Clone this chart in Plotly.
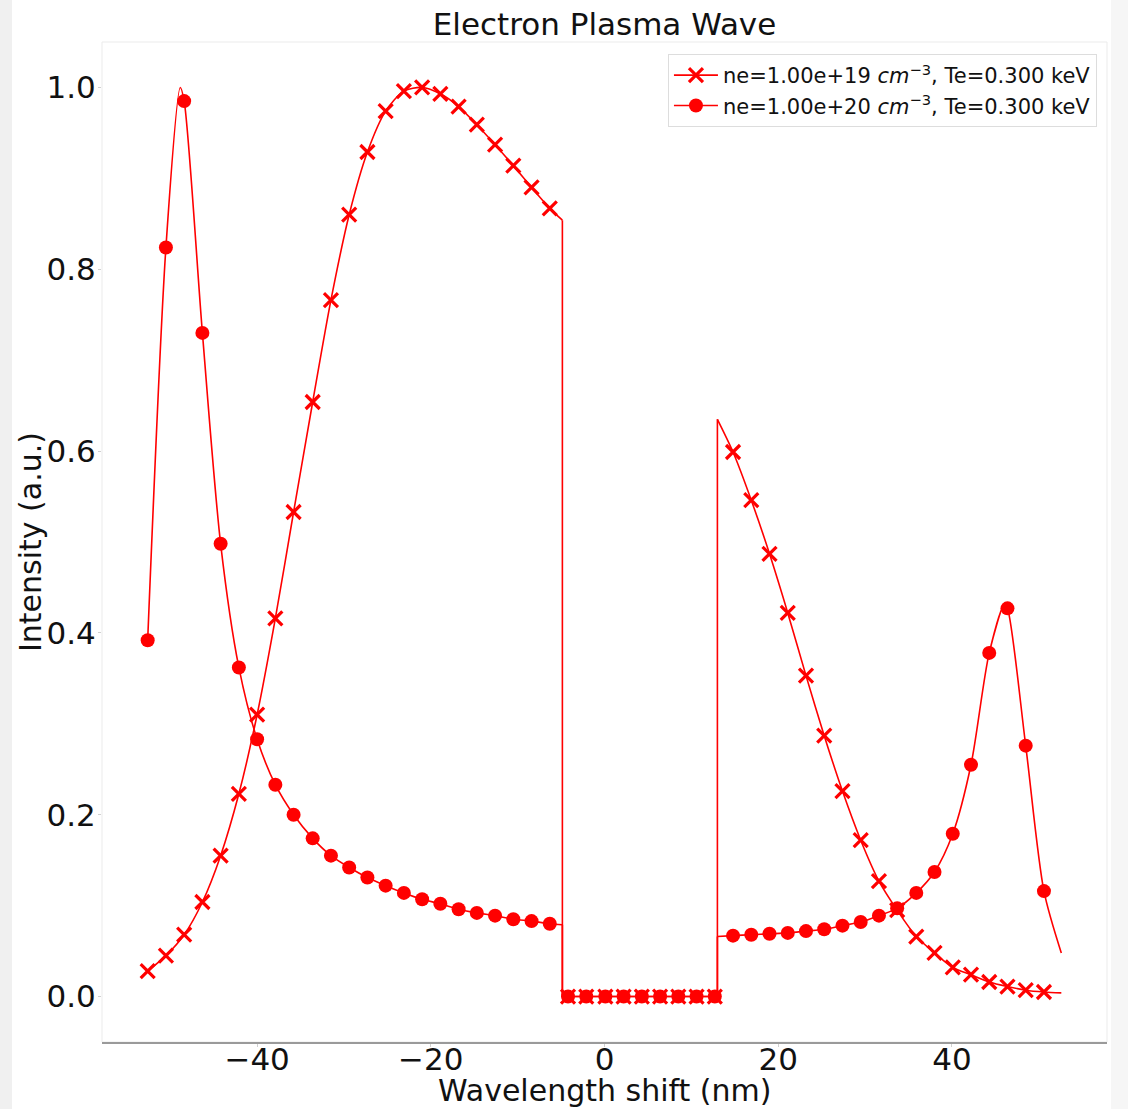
import plotly.graph_objects as go

# ---- data ----
# marker positions (nm)
X_MARK = [-52.6, -50.5, -48.4, -46.3, -44.2, -42.1, -40.0, -37.9, -35.8, -33.6,
          -31.5, -29.4, -27.3, -25.2, -23.1, -21.0, -18.9, -16.8, -14.7, -12.6,
          -10.5, -8.4, -6.3, -4.2, -2.1, 0.1, 2.2, 4.3, 6.4, 8.5,
          10.6, 12.7, 14.8, 16.9, 19.0, 21.1, 23.2, 25.3, 27.4, 29.5,
          31.6, 33.7, 35.9, 38.0, 40.1, 42.2, 44.3, 46.4, 48.5, 50.6]

NE19_MARK = [0.028, 0.045, 0.068, 0.104, 0.155, 0.223, 0.310, 0.416, 0.533, 0.654,
             0.766, 0.860, 0.929, 0.974, 0.996, 1.000, 0.993, 0.979, 0.959, 0.937,
             0.914, 0.890, 0.867, 0.0, 0.0, 0.0, 0.0, 0.0, 0.0, 0.0,
             0.0, 0.0, 0.599, 0.546, 0.487, 0.422, 0.353, 0.287, 0.226, 0.172,
             0.127, 0.095, 0.066, 0.048, 0.032, 0.024, 0.016, 0.011, 0.007, 0.005]

NE20_MARK = [0.392, 0.824, 0.985, 0.730, 0.498, 0.362, 0.283, 0.233, 0.200, 0.174,
             0.155, 0.142, 0.131, 0.122, 0.114, 0.107, 0.102, 0.096, 0.092, 0.089,
             0.085, 0.083, 0.080, 0.0, 0.0, 0.0, 0.0, 0.0, 0.0, 0.0,
             0.0, 0.0, 0.067, 0.068, 0.069, 0.070, 0.072, 0.074, 0.078, 0.082,
             0.089, 0.097, 0.114, 0.137, 0.179, 0.255, 0.378, 0.427, 0.276, 0.116]

# extra curve points read between markers (segment ends and peaks)
GAP_LO = -4.85
GAP_HI = 13.0
X_END = 52.6
NE19_LEFT_END, NE19_RIGHT_START, NE19_END = 0.854, 0.635, 0.004
NE20_LEFT_END, NE20_RIGHT_START, NE20_END = 0.079, 0.066, 0.048
NE20_PEAK_L = (-48.85, 1.0)
NE20_PEAK_R = (46.05, 0.431)

LABEL19 = "ne=1.00e+19 <i>cm</i><sup>−3</sup>, Te=0.300 keV"
LABEL20 = "ne=1.00e+20 <i>cm</i><sup>−3</sup>, Te=0.300 keV"

TITLE = "Electron Plasma Wave"
XTITLE = "Wavelength shift (nm)"
YTITLE = "Intensity (a.u.)"

RED = "#ff0000"
FONT = "DejaVu Sans"
TXT = "#111111"

n_left = sum(1 for x in X_MARK if x < GAP_LO)
i_right = next(i for i, x in enumerate(X_MARK) if x > GAP_HI)


def insert_point(xs, ys, px, py):
    pairs = sorted(list(zip(xs, ys)) + [(px, py)])
    return [p[0] for p in pairs], [p[1] for p in pairs]


fig = go.Figure()


def add_series(ymark, left_end, right_start, y_end, peaks):
    lx = X_MARK[:n_left] + [GAP_LO]
    ly = ymark[:n_left] + [left_end]
    rx = [GAP_HI] + X_MARK[i_right:] + [X_END]
    ry = [right_start] + ymark[i_right:] + [y_end]
    for (px, py) in peaks:
        if px < GAP_LO:
            lx, ly = insert_point(lx, ly, px, py)
        else:
            rx, ry = insert_point(rx, ry, px, py)
    line = dict(color=RED, width=1.6)
    fig.add_trace(go.Scatter(x=lx, y=ly, mode="lines", line=dict(**line, shape="spline", smoothing=0.8),
                             showlegend=False, hoverinfo="skip"))
    fig.add_trace(go.Scatter(x=[GAP_LO, GAP_LO, GAP_HI, GAP_HI],
                             y=[left_end, 0.0, 0.0, right_start],
                             mode="lines", line=line, showlegend=False, hoverinfo="skip"))
    fig.add_trace(go.Scatter(x=rx, y=ry, mode="lines", line=dict(**line, shape="spline", smoothing=0.8),
                             showlegend=False, hoverinfo="skip"))


add_series(NE19_MARK, NE19_LEFT_END, NE19_RIGHT_START, NE19_END, [])
X_MARKER = dict(symbol="x-thin", size=14, color=RED, line=dict(color=RED, width=3.2))
fig.add_trace(go.Scatter(x=X_MARK, y=NE19_MARK, mode="markers", marker=X_MARKER,
                         showlegend=False))

add_series(NE20_MARK, NE20_LEFT_END, NE20_RIGHT_START, NE20_END, [NE20_PEAK_L, NE20_PEAK_R])
DOT_MARKER = dict(symbol="circle", size=14, color=RED, line=dict(width=0))
fig.add_trace(go.Scatter(x=X_MARK, y=NE20_MARK, mode="markers", marker=DOT_MARKER,
                         showlegend=False))

# legend entries
fig.add_trace(go.Scatter(x=[None], y=[None], mode="lines+markers", name=LABEL19,
                         line=dict(color=RED, width=1.6), marker=X_MARKER))
fig.add_trace(go.Scatter(x=[None], y=[None], mode="lines+markers", name=LABEL20,
                         line=dict(color=RED, width=1.6), marker=DOT_MARKER))

W, H = 1128, 1109
ML, MR, MT, MB = 102, 21, 42, 67
pw = W - ML - MR
ph = H - MT - MB

shapes = [
    # light grey strips at the page edges
    dict(type="rect", xref="paper", yref="paper",
         x0=-ML / pw, x1=(12 - ML) / pw, y0=-MB / ph, y1=1 + MT / ph,
         fillcolor="#f0f0f0", line=dict(width=0), layer="below"),
    dict(type="rect", xref="paper", yref="paper",
         x0=(1111 - ML) / pw, x1=(W - ML) / pw, y0=-MB / ph, y1=1 + MT / ph,
         fillcolor="#f6f6f6", line=dict(width=0), layer="below"),
    # faint frame
    dict(type="rect", xref="paper", yref="paper", x0=0, x1=1, y0=0, y1=1,
         line=dict(color="#ebebeb", width=1), layer="below"),
]

annotations = [
    dict(text=XTITLE, xref="paper", yref="paper", x=0.5, y=-(1090 - (MT + ph)) / ph,
         xanchor="center", yanchor="middle", showarrow=False,
         font=dict(size=30, color=TXT, family=FONT)),
    dict(text=YTITLE, xref="paper", yref="paper", x=(30 - ML) / pw, y=0.5,
         xanchor="center", yanchor="middle", textangle=-90, showarrow=False,
         font=dict(size=30, color=TXT, family=FONT)),
]

fig.update_layout(
    width=W, height=H,
    margin=dict(l=ML, r=MR, t=MT, b=MB, pad=0, autoexpand=False),
    paper_bgcolor="white", plot_bgcolor="white",
    font=dict(family=FONT, size=31, color=TXT),
    title=dict(text=TITLE, x=0.5, xref="paper", y=1 - 24 / H, yref="container",
               xanchor="center", yanchor="middle", font=dict(size=31, color=TXT)),
    shapes=shapes,
    annotations=annotations,
    showlegend=True,
    legend=dict(x=0.990, y=(MT + ph - 54) / ph, xanchor="right", yanchor="top",
                bgcolor="white", bordercolor="#dddddd", borderwidth=1,
                font=dict(size=21, color=TXT), itemwidth=44,
                tracegroupgap=0),
)

fig.update_xaxes(range=[-57.86, 57.86], tickvals=[-40, -20, 0, 20, 40],
                 ticktext=["−40", "−20", "0", "20", "40"],
                 showgrid=False, zeroline=False, automargin=False,
                 showline=True, linecolor="#9a9a9a", linewidth=2, mirror=False,
                 ticks="outside", ticklen=3, tickcolor="#d0d0d0",
                 ticklabelstandoff=-14,
                 tickfont=dict(size=31))
fig.update_yaxes(range=[-0.05, 1.05], tickvals=[0.0, 0.2, 0.4, 0.6, 0.8, 1.0],
                 ticktext=["0.0", "0.2", "0.4", "0.6", "0.8", "1.0"],
                 showgrid=False, zeroline=False, showline=False, automargin=False,
                 ticks="outside", ticklen=3, tickcolor="#d0d0d0",
                 ticklabelstandoff=-4,
                 tickfont=dict(size=31))

fig.write_html("out.html")
